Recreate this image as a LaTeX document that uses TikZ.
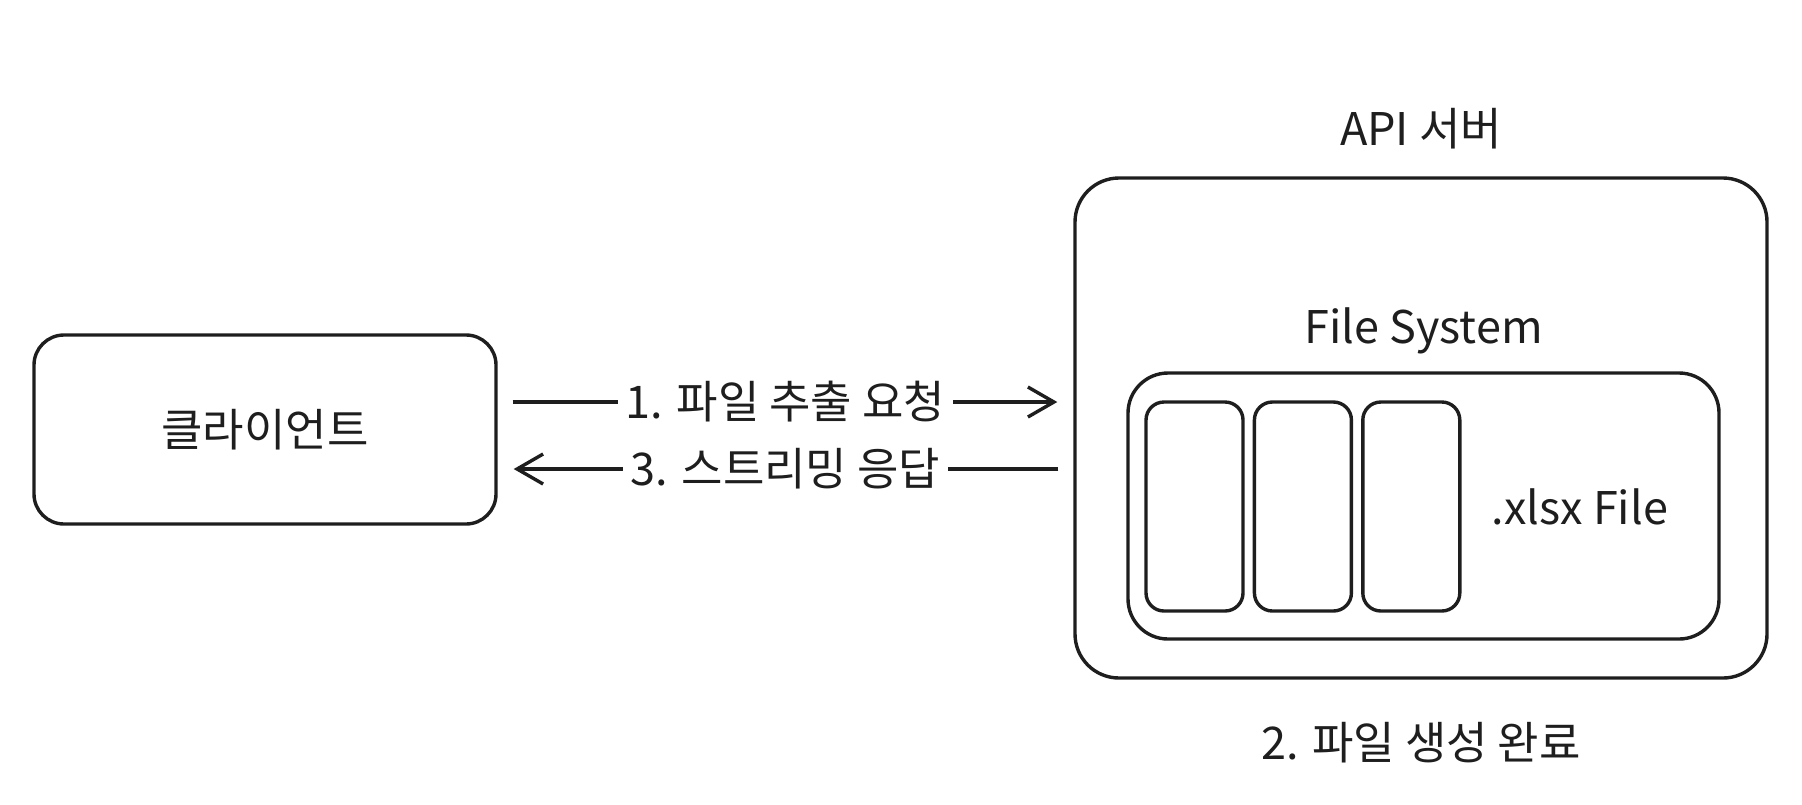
\documentclass[tikz,border=0pt]{standalone}
\usepackage{fontspec}
\setmainfont{Noto Sans CJK KR}
\usetikzlibrary{arrows.meta, positioning}
\definecolor{cink}{HTML}{1E1E1E}
\tikzset{
  every picture/.style={font=\fontsize{22.5}{26}\selectfont, line width=1.7pt},
  box/.style={draw=cink, rounded corners=#1, align=center, inner sep=0pt},
  box/.default=15pt,
  arrow/.style={-{Straight Barb[length=13pt, width=15pt]}, draw=cink, line width=1.7pt, shorten <=7.5pt, shorten >=8pt},
  tag/.style={fill=white, text=cink, inner xsep=4pt, inner ysep=1pt},
  note/.style={text=cink},
}

\begin{document}
\begin{tikzpicture}[x=0.5pt, y=-0.5pt, file/.style={box=9pt, minimum width=48.5pt, minimum height=104.5pt}]
  \useasboundingbox (0,0) rectangle (1802,804);
  % client
  \node[box=15pt, minimum width=231pt, minimum height=94.5pt, text=cink] (client) at (265, 429.5) {클라이언트};
  % server with file system
  \node[box=22pt, minimum width=346pt, minimum height=250pt] (server) at (1421, 428) {};
  \node[note] (apilbl) at ([yshift=24pt]server.north) {API 서버};
  \node[box=20pt, minimum width=295.5pt, minimum height=133pt] (fs) at (1423.5, 506) {};
  \node[note] (fslbl) at ([yshift=20pt]fs.north) {File System};
  \node[file] (f1) at (1194.5, 506.5) {};
  \node[file, right=4pt of f1] (f2) {};
  \node[file, right=4pt of f2] (f3) {};
  \node[note, right=11pt of f3] (xlsx) {.xlsx File};
  \node[note] (done) at ([yshift=-31.5pt]server.south) {2. 파일 생성 완료};
  % request / response
  \coordinate (req) at ([yshift=13.75pt]client.east);
  \coordinate (resp) at ([yshift=-19.75pt]client.east);
  \draw[arrow] (req) -- node[tag] {1. 파일 추출 요청} (req -| server.west);
  \draw[arrow] (resp -| server.west) -- node[tag] {3. 스트리밍 응답} (resp);
\end{tikzpicture}
\end{document}
